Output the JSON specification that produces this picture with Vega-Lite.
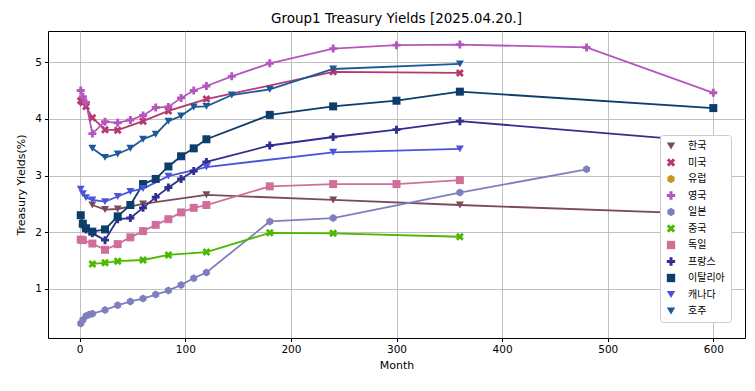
{
  "$schema": "https://vega.github.io/schema/vega-lite/v6.json",
  "width": 697,
  "height": 307,
  "autosize": "none",
  "padding": {"left": 48, "top": 31, "right": 10, "bottom": 53},
  "background": "white",
  "config": {
    "font": "DejaVu Sans",
    "view": {"stroke": "black", "strokeWidth": 1},
    "axis": {"gridColor": "#b0b0b0", "gridWidth": 0.8, "tickColor": "black", "domain": false, "tickSize": 3.5, "labelFontSize": 10.5, "labelColor": "black", "titleFontSize": 11, "titleFontWeight": "normal", "titleColor": "black", "labelFont": "DejaVu Sans", "titleFont": "DejaVu Sans"}
  },
  "title": {"text": "Group1 Treasury Yields [2025.04.20.]", "fontSize": 13.5, "fontWeight": "normal", "font": "DejaVu Sans", "color": "black", "offset": 6},
  "data": {"values": [
    {"c":"한국","m":12,"y":2.48},{"c":"한국","m":24,"y":2.40},{"c":"한국","m":36,"y":2.41},{"c":"한국","m":60,"y":2.50},{"c":"한국","m":120,"y":2.66},{"c":"한국","m":240,"y":2.57},{"c":"한국","m":360,"y":2.48},{"c":"한국","m":600,"y":2.32},
    {"c":"미국","m":1,"y":4.32},{"c":"미국","m":3,"y":4.29},{"c":"미국","m":6,"y":4.22},{"c":"미국","m":12,"y":4.02},{"c":"미국","m":24,"y":3.81},{"c":"미국","m":36,"y":3.80},{"c":"미국","m":60,"y":3.96},{"c":"미국","m":84,"y":4.14},{"c":"미국","m":120,"y":4.35},{"c":"미국","m":240,"y":4.83},{"c":"미국","m":360,"y":4.81},
    {"c":"영국","m":1,"y":4.50},{"c":"영국","m":3,"y":4.39},{"c":"영국","m":6,"y":4.29},{"c":"영국","m":12,"y":3.74},{"c":"영국","m":24,"y":3.95},{"c":"영국","m":36,"y":3.93},{"c":"영국","m":48,"y":3.98},{"c":"영국","m":60,"y":4.06},{"c":"영국","m":72,"y":4.20},{"c":"영국","m":84,"y":4.21},{"c":"영국","m":96,"y":4.37},{"c":"영국","m":108,"y":4.50},{"c":"영국","m":120,"y":4.58},{"c":"영국","m":144,"y":4.75},{"c":"영국","m":180,"y":4.98},{"c":"영국","m":240,"y":5.24},{"c":"영국","m":300,"y":5.30},{"c":"영국","m":360,"y":5.31},{"c":"영국","m":480,"y":5.26},{"c":"영국","m":600,"y":4.46},
    {"c":"일본","m":1,"y":0.39},{"c":"일본","m":3,"y":0.45},{"c":"일본","m":6,"y":0.52},{"c":"일본","m":9,"y":0.55},{"c":"일본","m":12,"y":0.56},{"c":"일본","m":24,"y":0.63},{"c":"일본","m":36,"y":0.71},{"c":"일본","m":48,"y":0.78},{"c":"일본","m":60,"y":0.83},{"c":"일본","m":72,"y":0.90},{"c":"일본","m":84,"y":0.97},{"c":"일본","m":96,"y":1.07},{"c":"일본","m":108,"y":1.19},{"c":"일본","m":120,"y":1.29},{"c":"일본","m":180,"y":2.19},{"c":"일본","m":240,"y":2.25},{"c":"일본","m":360,"y":2.70},{"c":"일본","m":480,"y":3.11},
    {"c":"중국","m":12,"y":1.44},{"c":"중국","m":24,"y":1.46},{"c":"중국","m":36,"y":1.49},{"c":"중국","m":60,"y":1.51},{"c":"중국","m":84,"y":1.60},{"c":"중국","m":120,"y":1.65},{"c":"중국","m":180,"y":1.99},{"c":"중국","m":240,"y":1.98},{"c":"중국","m":360,"y":1.92},
    {"c":"독일","m":1,"y":1.87},{"c":"독일","m":3,"y":1.86},{"c":"독일","m":12,"y":1.80},{"c":"독일","m":24,"y":1.69},{"c":"독일","m":36,"y":1.79},{"c":"독일","m":48,"y":1.91},{"c":"독일","m":60,"y":2.02},{"c":"독일","m":72,"y":2.13},{"c":"독일","m":84,"y":2.23},{"c":"독일","m":96,"y":2.35},{"c":"독일","m":108,"y":2.43},{"c":"독일","m":120,"y":2.48},{"c":"독일","m":180,"y":2.81},{"c":"독일","m":240,"y":2.85},{"c":"독일","m":300,"y":2.85},{"c":"독일","m":360,"y":2.92},
    {"c":"프랑스","m":3,"y":2.12},{"c":"프랑스","m":6,"y":2.05},{"c":"프랑스","m":12,"y":1.98},{"c":"프랑스","m":24,"y":1.86},{"c":"프랑스","m":36,"y":2.23},{"c":"프랑스","m":48,"y":2.25},{"c":"프랑스","m":60,"y":2.43},{"c":"프랑스","m":72,"y":2.62},{"c":"프랑스","m":84,"y":2.79},{"c":"프랑스","m":96,"y":2.94},{"c":"프랑스","m":108,"y":3.08},{"c":"프랑스","m":120,"y":3.24},{"c":"프랑스","m":180,"y":3.53},{"c":"프랑스","m":240,"y":3.68},{"c":"프랑스","m":300,"y":3.81},{"c":"프랑스","m":360,"y":3.96},{"c":"프랑스","m":600,"y":3.59},
    {"c":"이탈리아","m":1,"y":2.30},{"c":"이탈리아","m":3,"y":2.15},{"c":"이탈리아","m":6,"y":2.07},{"c":"이탈리아","m":12,"y":2.01},{"c":"이탈리아","m":24,"y":2.05},{"c":"이탈리아","m":36,"y":2.28},{"c":"이탈리아","m":48,"y":2.48},{"c":"이탈리아","m":60,"y":2.85},{"c":"이탈리아","m":72,"y":2.94},{"c":"이탈리아","m":84,"y":3.16},{"c":"이탈리아","m":96,"y":3.34},{"c":"이탈리아","m":108,"y":3.48},{"c":"이탈리아","m":120,"y":3.64},{"c":"이탈리아","m":180,"y":4.07},{"c":"이탈리아","m":240,"y":4.22},{"c":"이탈리아","m":300,"y":4.32},{"c":"이탈리아","m":360,"y":4.48},{"c":"이탈리아","m":600,"y":4.19},
    {"c":"캐나다","m":1,"y":2.76},{"c":"캐나다","m":3,"y":2.68},{"c":"캐나다","m":6,"y":2.61},{"c":"캐나다","m":12,"y":2.57},{"c":"캐나다","m":24,"y":2.54},{"c":"캐나다","m":36,"y":2.63},{"c":"캐나다","m":48,"y":2.72},{"c":"캐나다","m":60,"y":2.77},{"c":"캐나다","m":84,"y":2.99},{"c":"캐나다","m":120,"y":3.15},{"c":"캐나다","m":240,"y":3.41},{"c":"캐나다","m":360,"y":3.47},
    {"c":"호주","m":12,"y":3.48},{"c":"호주","m":24,"y":3.32},{"c":"호주","m":36,"y":3.38},{"c":"호주","m":48,"y":3.48},{"c":"호주","m":60,"y":3.64},{"c":"호주","m":72,"y":3.73},{"c":"호주","m":84,"y":3.96},{"c":"호주","m":96,"y":4.05},{"c":"호주","m":108,"y":4.21},{"c":"호주","m":120,"y":4.22},{"c":"호주","m":144,"y":4.42},{"c":"호주","m":180,"y":4.52},{"c":"호주","m":240,"y":4.88},{"c":"호주","m":360,"y":4.97}
  ]},
  "encoding": {
    "x": {"field": "m", "type": "quantitative", "title": "Month", "scale": {"domain": [-30, 630], "nice": false, "zero": false}, "axis": {"values": [0,100,200,300,400,500,600], "titlePadding": 4, "labelPadding": 3}},
    "y": {"field": "y", "type": "quantitative", "title": "Treasury Yields(%)", "scale": {"domain": [0.134, 5.55], "nice": false, "zero": false}, "axis": {"values": [1,2,3,4,5], "titlePadding": 8, "labelPadding": 3}},
    "color": {"field": "c", "type": "nominal", "title": null,
      "scale": {"domain": ["한국","미국","유럽","영국","일본","중국","독일","프랑스","이탈리아","캐나다","호주"],
                "range": ["#7b4b5b","#b5386f","#c8961e","#b556be","#7f7fbf","#4cb800","#d0709a","#302f8f","#0c3d6b","#4a55d9","#1b5a96"]},
      "legend": {"orient": "none", "legendX": 612, "legendY": 104, "fillColor": "white", "strokeColor": "#cccccc", "cornerRadius": 3, "padding": 6, "labelFont": "Noto Sans CJK KR", "labelFontSize": 10, "labelColor": "black", "symbolSize": 70, "rowPadding": 6.5, "symbolOpacity": 1, "symbolStrokeWidth": 0, "labelOffset": 12, "labelLimit": 200}
    }
  },
  "layer": [
    {"mark": {"type": "line", "strokeWidth": 1.8}, "encoding": {"detail": {"field": "c"}}},
    {"mark": {"type": "point", "filled": true, "opacity": 1, "size": 64},
     "encoding": {"shape": {"field": "c", "type": "nominal", "title": null,
       "scale": {"domain": ["한국","미국","유럽","영국","일본","중국","독일","프랑스","이탈리아","캐나다","호주"],
         "range": ["triangle-down",
           "M-1,-0.5L-0.5,-1L0,-0.5L0.5,-1L1,-0.5L0.5,0L1,0.5L0.5,1L0,0.5L-0.5,1L-1,0.5L-0.5,0Z",
           "M0,-1L0.866,-0.5L0.866,0.5L0,1L-0.866,0.5L-0.866,-0.5Z",
           "M-0.36,-1H0.36V-0.36H1V0.36H0.36V1H-0.36V0.36H-1V-0.36H-0.36Z",
           "M0,-1L0.866,-0.5L0.866,0.5L0,1L-0.866,0.5L-0.866,-0.5Z",
           "M-1,-0.5L-0.5,-1L0,-0.5L0.5,-1L1,-0.5L0.5,0L1,0.5L0.5,1L0,0.5L-0.5,1L-1,0.5L-0.5,0Z",
           "square",
           "M-0.36,-1H0.36V-0.36H1V0.36H0.36V1H-0.36V0.36H-1V-0.36H-0.36Z",
           "square",
           "triangle-down",
           "triangle-down"]}}}}
  ]
}
